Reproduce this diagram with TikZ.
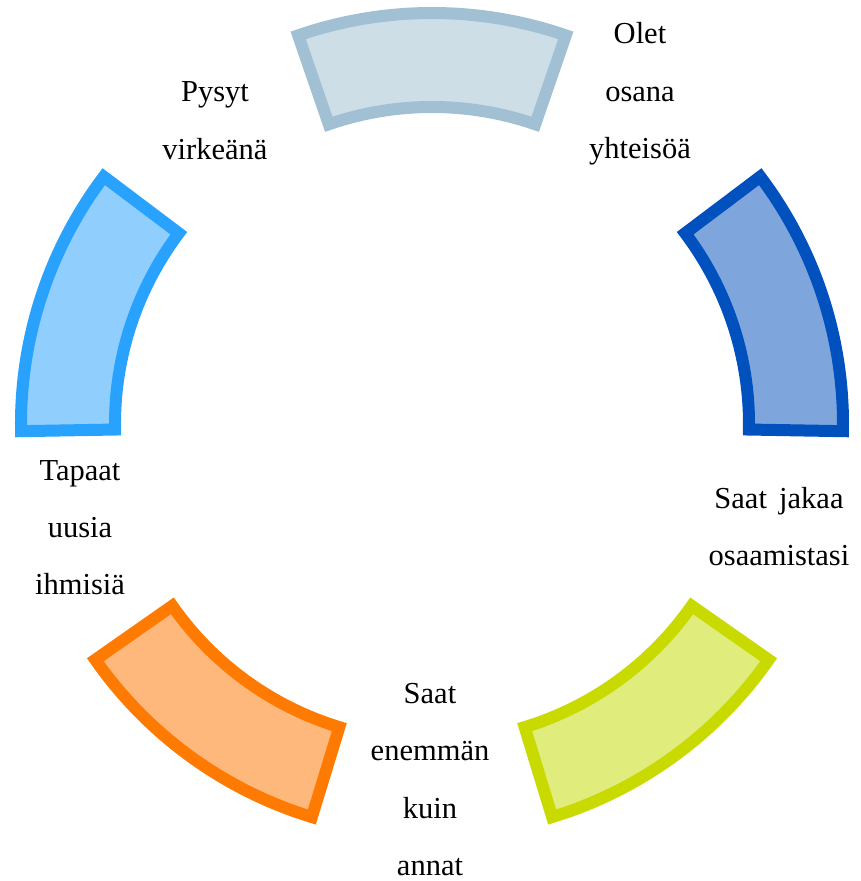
\documentclass[tikz,border=0pt]{standalone}
\usepackage{fontspec}
\setmainfont{Liberation Serif}
\usetikzlibrary{positioning,calc}
\definecolor{topline}{HTML}{A1C0D3}
\definecolor{topfill}{HTML}{CDDEE7}
\definecolor{rightline}{HTML}{0050BE}
\definecolor{rightfill}{HTML}{7FA6DC}
\definecolor{greenline}{HTML}{C8DA00}
\definecolor{greenfill}{HTML}{E0EC7C}
\definecolor{orangeline}{HTML}{FF7A00}
\definecolor{orangefill}{HTML}{FFB87B}
\definecolor{leftline}{HTML}{29A2FD}
\definecolor{leftfill}{HTML}{90CEFD}
\tikzset{
  basic/.style  = {line width=12pt, line join=miter},
  seg1/.style   = {basic, draw=topline, fill=topfill},
  seg2/.style   = {basic, draw=rightline, fill=rightfill},
  seg3/.style   = {basic, draw=greenline, fill=greenfill},
  seg4/.style   = {basic, draw=orangeline, fill=orangefill},
  seg5/.style   = {basic, draw=leftline, fill=leftfill},
  txt/.style    = {inner sep=0pt, anchor=base, text width=7cm, align=center,
  font=\fontsize{30.5}{57.5}\selectfont}
}
% ring piece: style, start angle, end angle
\newcommand{\ringpart}[3]{%
  \draw[#1] (#2:411pt) arc[start angle=#2, end angle=#3, radius=411pt]
    -- (#3:317pt) arc[start angle=#3, end angle=#2, radius=317pt] -- cycle;}

\begin{document}
\begin{tikzpicture}[x=1pt,y=1pt]
\useasboundingbox (-432,-457) rectangle (428,424);
\coordinate (hub) at (0,0);

\ringpart{seg1}{71}{109}
\ringpart{seg2}{-1}{37}
\ringpart{seg3}{-73}{-35}
\ringpart{seg4}{215}{253}
\ringpart{seg5}{143}{181}

\node[txt] (yhteiso) at (208,380) {Olet\\osana\\yhteisöä};
\node[txt] (virkea) at (-217,322) {Pysyt\\virkeänä};
\node[txt] (osaaminen) at (347,-84) {Saat\hspace{0.4em}jakaa\\osaamistasi};
\node[txt] (enemman) at (-2,-279) {Saat\\enemmän\\kuin\\annat};
\node[txt] (ihmiset) at (-352,-56) {Tapaat\\uusia\\ihmisiä};
\end{tikzpicture}
\end{document}
